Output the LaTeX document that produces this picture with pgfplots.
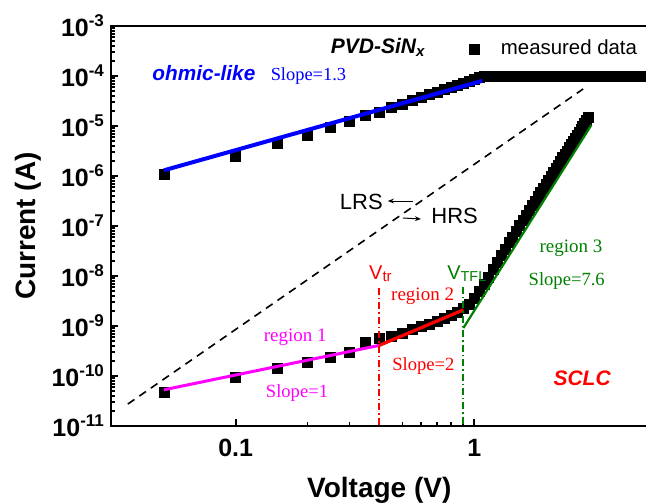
\documentclass[border=0pt]{standalone}
\usepackage{pgfplots}
\pgfplotsset{compat=1.18}
\usepackage{pgfplotstable}
\usepackage{fontspec}
\setmainfont{Liberation Sans}
\newfontfamily\timesf{Liberation Serif}
\usetikzlibrary{arrows.meta,calc}
\definecolor{dgreen}{RGB}{0,128,0}
\definecolor{pred}{RGB}{255,0,0}
\definecolor{pblue}{RGB}{0,0,255}
\definecolor{pmag}{RGB}{255,0,255}
\newcommand{\tl}[1]{10\raisebox{5pt}{\fontsize{8.5}{9}\selectfont\bfseries #1}}

\pgfplotstableread{
V I
0.05 1.1e-6
0.10 2.5e-6
0.15 4.4e-6
0.20 6.6e-6
0.25 9.5e-6
0.30 1.26e-5
0.35 1.6e-5
0.40 1.9e-5
0.45 2.31e-5
0.50 2.75e-5
0.55 3.22e-5
0.60 3.71e-5
0.65 4.23e-5
0.70 4.78e-5
0.75 5.36e-5
0.80 5.96e-5
0.85 6.59e-5
0.90 7.24e-5
0.95 7.92e-5
1.00 8.62e-5
1.05 9.34e-5
1.10 1.0e-4
1.15 1.0e-4
1.20 1.0e-4
1.25 1.0e-4
1.30 1.0e-4
1.35 1.0e-4
1.40 1.0e-4
1.45 1.0e-4
1.50 1.0e-4
1.55 1.0e-4
1.60 1.0e-4
1.65 1.0e-4
1.70 1.0e-4
1.75 1.0e-4
1.80 1.0e-4
1.85 1.0e-4
1.90 1.0e-4
1.95 1.0e-4
2.00 1.0e-4
2.05 1.0e-4
2.10 1.0e-4
2.15 1.0e-4
2.20 1.0e-4
2.25 1.0e-4
2.30 1.0e-4
2.35 1.0e-4
2.40 1.0e-4
2.45 1.0e-4
2.50 1.0e-4
2.55 1.0e-4
2.60 1.0e-4
2.65 1.0e-4
2.70 1.0e-4
2.75 1.0e-4
2.80 1.0e-4
2.85 1.0e-4
2.90 1.0e-4
2.95 1.0e-4
3.00 1.0e-4
3.05 1.0e-4
3.10 1.0e-4
3.15 1.0e-4
3.20 1.0e-4
3.25 1.0e-4
3.30 1.0e-4
3.35 1.0e-4
3.40 1.0e-4
3.45 1.0e-4
3.50 1.0e-4
3.55 1.0e-4
3.60 1.0e-4
3.65 1.0e-4
3.70 1.0e-4
3.75 1.0e-4
3.80 1.0e-4
3.85 1.0e-4
3.90 1.0e-4
3.95 1.0e-4
4.00 1.0e-4
4.05 1.0e-4
4.10 1.0e-4
4.15 1.0e-4
4.20 1.0e-4
4.25 1.0e-4
4.30 1.0e-4
4.35 1.0e-4
4.40 1.0e-4
4.45 1.0e-4
4.50 1.0e-4
4.55 1.0e-4
4.60 1.0e-4
4.65 1.0e-4
4.70 1.0e-4
4.75 1.0e-4
4.80 1.0e-4
4.85 1.0e-4
4.90 1.0e-4
4.95 1.0e-4
5.00 1.0e-4
5.05 1.0e-4
5.10 1.0e-4
5.15 1.0e-4
5.20 1.0e-4
5.25 1.0e-4
5.30 1.0e-4
}\lrs

\pgfplotstableread{
V I
0.05 4.8e-11
0.10 9.5e-11
0.15 1.45e-10
0.20 1.9e-10
0.25 2.4e-10
0.30 3.0e-10
0.35 4.6e-10
0.40 5.6e-10
0.45 6.2e-10
0.50 7.2e-10
0.55 8.4e-10
0.60 9.7e-10
0.65 1.1e-9
0.70 1.26e-9
0.75 1.44e-9
0.80 1.65e-9
0.85 1.9e-9
0.90 2.2e-9
0.95 2.75e-9
1.00 3.5e-9
1.05 4.9e-9
1.10 6.8e-9
1.15 9.5e-9
1.20 1.33e-8
1.25 1.85e-8
1.30 2.54e-8
1.35 3.45e-8
1.40 4.6e-8
1.45 6.05e-8
1.50 7.85e-8
1.55 1.01e-7
1.60 1.29e-7
1.65 1.626e-7
1.70 2.03e-7
1.75 2.53e-7
1.80 3.12e-7
1.85 3.83e-7
1.90 4.68e-7
1.95 5.69e-7
2.00 6.88e-7
2.05 8.28e-7
2.10 9.92e-7
2.15 1.183e-6
2.20 1.406e-6
2.25 1.664e-6
2.30 1.962e-6
2.35 2.305e-6
2.40 2.70e-6
2.45 3.15e-6
2.50 3.67e-6
2.55 4.25e-6
2.60 4.92e-6
2.65 5.68e-6
2.70 6.53e-6
2.75 7.49e-6
2.80 8.58e-6
2.85 9.80e-6
2.90 1.116e-5
2.95 1.269e-5
3.00 1.5e-5
}\hrs

\begin{document}
\begin{tikzpicture}
\begin{axis}[
  scale only axis,
  width=268.3pt, height=200pt,
  xmode=log, ymode=log,
  xmin=0.03, xmax=5.33,
  ymin=1e-11, ymax=1e-3,
  clip marker paths=true,
  axis line style={line width=1.2pt},
  tick style={line width=0.9pt, black},
  tick align=inside,
  major tick length=3.5pt,
  minor tick length=2pt,
  xtick pos=bottom, ytick pos=left,
  xtick={0.1,1},
  xticklabels={0.1,1},
  ytick={1e-11,1e-10,1e-9,1e-8,1e-7,1e-6,1e-5,1e-4,1e-3},
  yticklabels={\tl{-11},\tl{-10},\tl{-9},\tl{-8},\tl{-7},\tl{-6},\tl{-5},\tl{-4},\tl{-3}},
  tick label style={font=\fontsize{12.5}{14}\selectfont\bfseries},
  xticklabel style={yshift=-3pt},
  xlabel={Voltage (V)},
  ylabel={Current (A)},
  label style={font=\fontsize{14}{16}\selectfont\bfseries},
  xlabel style={at={(axis description cs:0.5,0)}, anchor=base, yshift=-35.5pt},
  ylabel style={at={([xshift=-37.5pt]axis description cs:0,0.5)}, anchor=base},
  legend style={at={(rel axis cs:0.657,0.9425)}, anchor=west, draw=none, fill=none,
    font=\fontsize{10.2}{12}\selectfont, inner sep=0pt},
  legend image code/.code={\path[draw=none] (0pt,0pt) -- (16.5pt,0pt); \draw[#1] plot coordinates {(5pt,0pt)};},
]
\coordinate (BL) at (rel axis cs:0,0);
\coordinate (TR) at (rel axis cs:1,1);
\addplot[only marks, mark=square*, mark size=2.5pt, black] table[x=V,y=I] {\lrs};
\addlegendentry{measured data}
\addplot[only marks, mark=square*, mark size=2.5pt, black, forget plot] table[x=V,y=I] {\hrs};
% guide lines
\addplot[black, line width=0.8pt, dash pattern=on 4pt off 3pt, forget plot] coordinates {(0.0353,2.75e-11) (2.86,5.5e-5)};
\addplot[pblue, line width=2pt, forget plot] coordinates {(0.05,1.3e-6) (1.08,8e-5)};
\addplot[pmag, line width=1.5pt, forget plot] coordinates {(0.05,5.3e-11) (0.4,4.1e-10)};
\addplot[pred, line width=1.6pt, forget plot] coordinates {(0.4,4.1e-10) (0.9,2.1e-9)};
\addplot[dgreen, line width=1.1pt, forget plot] coordinates {(0.9,9.1e-10) (3.1,1.05e-5)};
\addplot[pred, line width=0.9pt, dash pattern=on 3.5pt off 1.5pt on 0.7pt off 1.5pt, forget plot] coordinates {(0.4,5.75e-9) (0.4,1e-11)};
\addplot[dgreen, line width=0.9pt, dash pattern=on 3.5pt off 1.5pt on 0.7pt off 1.5pt, forget plot] coordinates {(0.9,6e-9) (0.9,1e-11)};
% annotations
\node[anchor=base west, inner sep=0pt, text=pblue, font=\fontsize{10.4}{12}\selectfont\bfseries\itshape] at (rel axis cs:0.0766,0.865) {ohmic-like};
\node[anchor=base west, inner sep=0pt, font=\fontsize{10.5}{12}\selectfont\bfseries\itshape] at (rel axis cs:0.409,0.9325) {PVD-SiN\raisebox{-1.5pt}{\fontsize{7.5}{8}\selectfont x}};
\node[anchor=base west, inner sep=0pt, text=pblue, font=\fontsize{9.2}{11}\selectfont\timesf] at (rel axis cs:0.297,0.865) {Slope=1.3};
\node[anchor=base west, inner sep=0pt, font=\fontsize{11}{13}\selectfont] at (rel axis cs:0.426,0.5425) {LRS};
\node[anchor=base west, inner sep=0pt, font=\fontsize{11}{13}\selectfont] at (rel axis cs:0.5963,0.5075) {HRS};
\draw[line width=0.5pt, -{Stealth[length=3pt,width=2.4pt]}] (rel axis cs:0.5626,0.5625) -- (rel axis cs:0.5159,0.5625);
\draw[line width=0.5pt, -{Stealth[length=3pt,width=2.4pt]}] (rel axis cs:0.5439,0.52) -- (rel axis cs:0.5776,0.5175);
\node[anchor=base west, inner sep=0pt, text=pred, font=\fontsize{10}{12}\selectfont] at (rel axis cs:0.4804,0.3675) {V\raisebox{-1pt}{\fontsize{7.5}{8}\selectfont tr}};
\node[anchor=base west, inner sep=0pt, text=pred, font=\fontsize{9.5}{11}\selectfont\timesf] at (rel axis cs:0.5215,0.315) {region 2};
\node[anchor=base west, inner sep=0pt, text=pred, font=\fontsize{9.3}{11}\selectfont\timesf] at (rel axis cs:0.5234,0.14) {Slope=2};
\node[anchor=base west, inner sep=0pt, text=dgreen, font=\fontsize{10}{12}\selectfont] at (rel axis cs:0.626,0.3675) {V\raisebox{-1pt}{\fontsize{7.2}{8}\selectfont TFL}};
\node[anchor=base west, inner sep=0pt, text=dgreen, font=\fontsize{9.5}{11}\selectfont\timesf] at (rel axis cs:0.798,0.435) {region 3};
\node[anchor=base west, inner sep=0pt, text=dgreen, font=\fontsize{9.3}{11}\selectfont\timesf] at (rel axis cs:0.7776,0.3525) {Slope=7.6};
\node[anchor=base west, inner sep=0pt, text=pmag, font=\fontsize{9.5}{11}\selectfont\timesf] at (rel axis cs:0.284,0.2125) {region 1};
\node[anchor=base west, inner sep=0pt, text=pmag, font=\fontsize{9.3}{11}\selectfont\timesf] at (rel axis cs:0.288,0.0725) {Slope=1};
\node[anchor=base west, inner sep=0pt, text=pred, font=\fontsize{10.5}{12}\selectfont\bfseries\itshape] at (rel axis cs:0.824,0.1025) {SCLC};
\end{axis}
\pgfresetboundingbox
\path ($(BL)+(-55.5pt,-38pt)$) rectangle ($(TR)+(-0.8pt,13pt)$);
\end{tikzpicture}
\end{document}
